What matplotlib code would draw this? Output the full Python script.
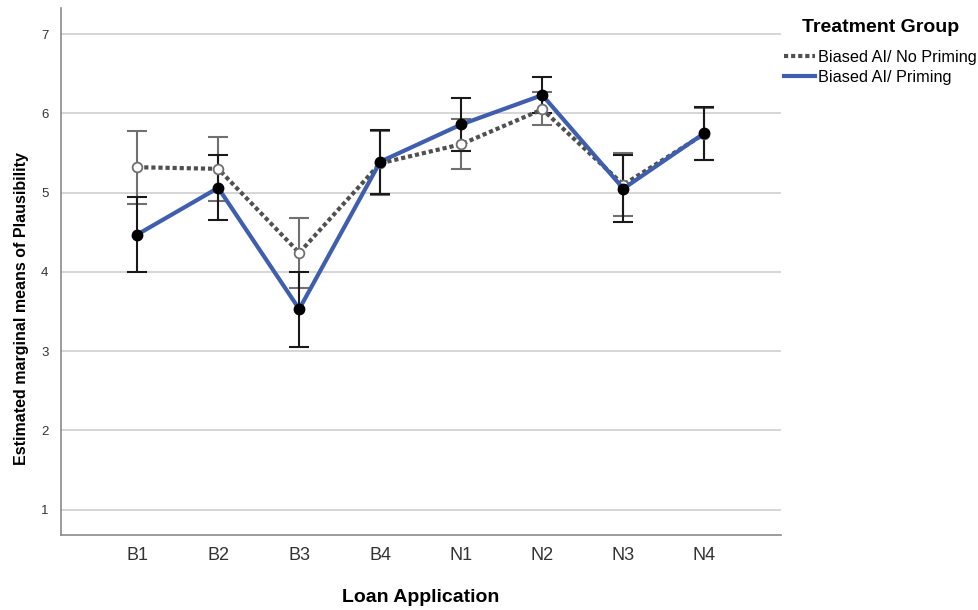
import numpy as np
import matplotlib
matplotlib.use('Agg')
import matplotlib.pyplot as plt

plt.rcParams['font.family'] = ['Liberation Sans', 'DejaVu Sans']

loans = ['B1', 'B2', 'B3', 'B4', 'N1', 'N2', 'N3', 'N4']

# Biased AI / No Priming
no_prim_mean = [5.32, 5.30, 4.24, 5.37, 5.61, 6.05, 5.10, 5.74]
no_prim_lo = [4.86, 4.90, 3.80, 4.97, 5.30, 5.85, 4.70, 5.41]
no_prim_hi = [5.78, 5.70, 4.68, 5.78, 5.93, 6.27, 5.50, 6.07]

# Biased AI / Priming
prim_mean = [4.47, 5.06, 3.53, 5.39, 5.86, 6.23, 5.05, 5.75]
prim_lo = [4.00, 4.65, 3.05, 4.98, 5.53, 6.00, 4.63, 5.41]
prim_hi = [4.94, 5.47, 4.00, 5.79, 6.19, 6.46, 5.47, 6.08]

x = np.arange(len(loans))

fig = plt.figure(figsize=(9.79, 6.10), dpi=100)
ax = fig.add_axes([0.0623, 0.123, 0.735, 0.864])

# grid lines
for v in range(1, 8):
    ax.axhline(v, color='#cfcfcf', lw=1.2, zorder=0)

nm = np.array(no_prim_mean)
pm = np.array(prim_mean)
ax.errorbar(x, nm, yerr=[nm - np.array(no_prim_lo), np.array(no_prim_hi) - nm],
            fmt='none', ecolor='#707070', elinewidth=1.5, capsize=7, capthick=1.5, zorder=2)
ax.errorbar(x, pm, yerr=[pm - np.array(prim_lo), np.array(prim_hi) - pm],
            fmt='none', ecolor='#1a1a1a', elinewidth=1.5, capsize=7, capthick=1.5, zorder=3)

l1, = ax.plot(x, nm, color='#505050', lw=3, ls=(0, (1, 0.7)), zorder=4,
              label='Biased AI/ No Priming')
ax.plot(x, nm, 'o', mfc='white', mec='#707070', ms=7, mew=1.3, zorder=5)
l2, = ax.plot(x, pm, color='#3f5fae', lw=3, zorder=6, label='Biased AI/ Priming')
ax.plot(x, pm, 'o', color='black', ms=7.5, zorder=7)

ax.set_xlim(-0.94, 7.94)
ax.set_ylim(0.68, 7.33)
ax.set_xticks(x)
ax.set_xticklabels(loans, fontsize=13, color='#333333')
ax.set_yticks(range(1, 8))
ax.set_yticklabels([str(v) for v in range(1, 8)], fontsize=9.5, color='#333333')
ax.tick_params(length=0, pad=9)
ax.tick_params(axis='x', pad=9)
for s in ['top', 'right']:
    ax.spines[s].set_visible(False)
for s in ['left', 'bottom']:
    ax.spines[s].set_color('#8a8a8a')
    ax.spines[s].set_linewidth(1.2)

ax.set_xlabel('Loan Application', fontsize=14, fontweight='bold', labelpad=18)
ax.set_ylabel('Estimated marginal means of Plausibility', fontsize=11.5, fontweight='bold')
ax.yaxis.set_label_coords(-0.045, 0.43)

# legend title
fig.text(881 / 979, 1 - 28 / 610, 'Treatment Group', ha='center', va='center',
         fontsize=14, fontweight='bold')
fig.legend(handles=[l1, l2], loc='upper left', bbox_to_anchor=(784 / 979, 1 - 50 / 610),
           frameon=False, fontsize=11.7, borderpad=0, borderaxespad=0,
           handlelength=1.9, handletextpad=0.2, labelspacing=0.3)

fig.savefig('out.png', dpi=100)
